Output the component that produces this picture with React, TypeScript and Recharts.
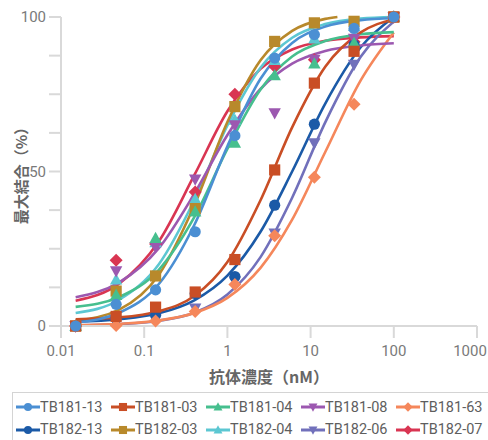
import { ComposedChart, Line, Scatter, XAxis, YAxis } from 'recharts';

// antibody concentrations (nM), 3-fold dilution series
const concentrations = [0.015, 0.046, 0.137, 0.41, 1.23, 3.7, 11.1, 33.3, 100];
const fitConc = [0.015, 0.05, 0.15, 0.4, 1, 2.5, 6, 15, 40, 100];
const fitConcShort = [0.015, 0.05, 0.15, 0.4, 1, 2.5, 6, 15, 21];

// measured max binding (%)
const tb181_13 = [0, 7, 11.7, 30.5, 61.6, 86.7, 94.3, 96.3, 100];
const tb181_03 = [0, 3.1, 6.1, 11, 21.5, 50.5, 78.6, 88.9, 100];
const tb181_04 = [0, 10, 28.4, 37, 59.2, 81.1, 84.9, 91.6, 100];
const tb181_08 = [0, 17.8, 25.6, 47.5, 65, 68.9, 86.2, 93, 100];
const tb181_63 = [0, 0.2, 1.6, 4.7, 13.4, 29.2, 48.1, 71.8, 100];
const tb182_13 = [0, 2.5, 3.5, 10.5, 16, 39.1, 65.3, 91, 100];
const tb182_03 = [0, 11.3, 16.2, 38, 71, 92.1, 98.1, 98.6, 100];
const tb182_04 = [0, 15, 27, 41, 66.7, 86, 93, 97, 100];
const tb182_06 = [0, 1, 2.5, 5.7, 14.5, 30, 59.2, 84.6, 100];
const tb182_07 = [0, 21.3, 26.5, 43.4, 75, 84, 86.2, 92, 100];

// fitted curves (%), read at fitConc
const tb181_13Fit = [1.1, 4.3, 13.6, 32.7, 58.2, 80, 91.6, 96.9, 99, 99.6];
const tb181_03Fit = [2.2, 2.8, 4.8, 9.7, 20.7, 40.7, 64.3, 83.9, 95, 99.3];
const tb181_04Fit = [6.2, 9.4, 18.2, 35.2, 57.3, 76.5, 87.2, 92.2, 94.4, 95.1];
const tb181_08Fit = [9.3, 14.1, 25.2, 42.8, 61.8, 76.7, 84.9, 89, 90.8, 91.5];
const tb181_63Fit = [0.2, 0.7, 1.8, 4.2, 9.1, 18.8, 34.4, 56.3, 79.5, 95];
const tb182_13Fit = [1.4, 2.2, 4.1, 8.3, 16.3, 30.5, 50, 72, 90.2, 100];
const tb182_03Fit = [1.7, 5.3, 16.6, 39, 66, 86, 95.5, 99.4, 100]; // runs off the top
const tb182_04Fit = [4.2, 8.5, 20, 40.7, 64.9, 83.6, 93.3, 97.7, 99.5, 100];
const tb182_06Fit = [0.2, 0.6, 1.7, 4.3, 10.2, 22.3, 41.5, 65.9, 87.1, 98.5];
const tb182_07Fit = [8.2, 13.7, 27.4, 48.8, 69.5, 83.2, 89.5, 92.3, 93.4, 93.8];

const xTicks = [0.01, 0.1, 1, 10, 100, 1000];
const yTicks = [0, 12.5, 25, 37.5, 50, 62.5, 75, 87.5, 100];

type MarkerKind = 'circle' | 'square' | 'up' | 'down' | 'diamond';

const SERIES: { name: string; color: string; marker: MarkerKind; points: number[]; fit: number[]; fitX: number[] }[] = [
  { name: 'TB181-13', color: '#4b8fd3', marker: 'circle', points: tb181_13, fit: tb181_13Fit, fitX: fitConc },
  { name: 'TB181-03', color: '#c94e25', marker: 'square', points: tb181_03, fit: tb181_03Fit, fitX: fitConc },
  { name: 'TB181-04', color: '#46bf8e', marker: 'up', points: tb181_04, fit: tb181_04Fit, fitX: fitConc },
  { name: 'TB181-08', color: '#9c58b0', marker: 'down', points: tb181_08, fit: tb181_08Fit, fitX: fitConc },
  { name: 'TB181-63', color: '#f5875b', marker: 'diamond', points: tb181_63, fit: tb181_63Fit, fitX: fitConc },
  { name: 'TB182-13', color: '#1b5aa7', marker: 'circle', points: tb182_13, fit: tb182_13Fit, fitX: fitConc },
  { name: 'TB182-03', color: '#b8892b', marker: 'square', points: tb182_03, fit: tb182_03Fit, fitX: fitConcShort },
  { name: 'TB182-04', color: '#5cc7d2', marker: 'up', points: tb182_04, fit: tb182_04Fit, fitX: fitConc },
  { name: 'TB182-06', color: '#7170bb', marker: 'down', points: tb182_06, fit: tb182_06Fit, fitX: fitConc },
  { name: 'TB182-07', color: '#d93552', marker: 'diamond', points: tb182_07, fit: tb182_07Fit, fitX: fitConc },
];

const AXIS = '#d9d9d9';
const TICK_TEXT = '#7a7a7a';
const LABEL_TEXT = '#666';
const NUM_FONT = 'Roboto, "Noto Sans", sans-serif';
const CJK_FONT = '"Noto Sans CJK JP", "Noto Sans", sans-serif';

function Marker({ cx, cy, fill, kind, s = 1 }: { cx: number; cy: number; fill: string; kind: MarkerKind; s?: number }) {
  if (cx == null || cy == null) return null;
  switch (kind) {
    case 'circle':
      return <circle cx={cx} cy={cy} r={5.6 * s} fill={fill} />;
    case 'square':
      return <rect x={cx - 5.6 * s} y={cy - 5.6 * s} width={11.2 * s} height={11.2 * s} fill={fill} />;
    case 'up':
      return <polygon points={`${cx},${cy - 6.5 * s} ${cx + 6.2 * s},${cy + 4.8 * s} ${cx - 6.2 * s},${cy + 4.8 * s}`} fill={fill} />;
    case 'down':
      return <polygon points={`${cx},${cy + 6.5 * s} ${cx + 6.2 * s},${cy - 4.8 * s} ${cx - 6.2 * s},${cy - 4.8 * s}`} fill={fill} />;
    default:
      return <polygon points={`${cx},${cy - 6.5 * s} ${cx + 6.5 * s},${cy} ${cx},${cy + 6.5 * s} ${cx - 6.5 * s},${cy}`} fill={fill} />;
  }
}

// x tick label; the last one is nudged in so it stays on the page
function XTick({ x, y, payload }: any) {
  const last = payload.value === xTicks[xTicks.length - 1];
  return (
    <text
      x={x}
      y={y}
      dx={last ? -7 : 0}
      dy="0.71em"
      textAnchor="middle"
      fill={TICK_TEXT}
      fontSize={15}
      fontFamily={NUM_FONT}
    >
      {String(payload.value)}
    </text>
  );
}

function YLabel() {
  return (
    <text
      transform="translate(20,172) rotate(-90)"
      textAnchor="middle"
      dominantBaseline="central"
      fill={LABEL_TEXT}
      fontFamily={CJK_FONT}
      fontWeight={700}
      fontSize={15}
    >
      最大結合（%）
    </text>
  );
}

function ChartLegend() {
  return (
    <div
      style={{
        position: 'absolute',
        left: 12,
        top: 392,
        width: 490,
        height: 60,
        border: '1px solid #d4d4d4',
        display: 'grid',
        gridTemplateColumns: 'repeat(5, 95px)',
        gridAutoRows: '22.6px',
        paddingLeft: 3,
        paddingTop: 3,
        boxSizing: 'border-box',
        fontFamily: NUM_FONT,
        fontSize: 14.5,
        color: '#5e5e5e',
      }}
    >
      {SERIES.map((s) => (
        <div key={s.name} style={{ display: 'flex', alignItems: 'center', whiteSpace: 'nowrap' }}>
          <svg width={24} height={14} style={{ flex: 'none' }}>
            <line x1={0} y1={7} x2={24} y2={7} stroke={s.color} strokeWidth={3} />
            <Marker cx={12} cy={7} fill={s.color} kind={s.marker} s={0.72} />
          </svg>
          <span>{s.name}</span>
        </div>
      ))}
    </div>
  );
}

export default function App() {
  const drawOrder = [...SERIES].reverse();
  return (
    <div style={{ position: 'relative', width: 488, height: 440, overflow: 'hidden', background: '#fff' }}>
      <style>{'body{margin:0}'}</style>
      <ComposedChart width={488} height={440} margin={{ top: 17, right: 11, bottom: 57, left: 0 }}>
        <XAxis
          dataKey="x"
          type="number"
          scale="log"
          domain={[0.01, 1000]}
          ticks={xTicks}
          interval={0}
          height={57}
          tickSize={12}
          tickMargin={7}
          stroke={AXIS}
          strokeWidth={2}
          tick={<XTick />}
          label={{
            value: '抗体濃度（nM）',
            position: 'insideBottom',
            offset: 0,
            fill: LABEL_TEXT,
            fontSize: 16,
            fontWeight: 700,
            fontFamily: CJK_FONT,
          }}
        />
        <YAxis
          dataKey="y"
          type="number"
          domain={[0, 100]}
          ticks={yTicks}
          interval={0}
          width={61}
          tickSize={12}
          tickMargin={3}
          stroke={AXIS}
          strokeWidth={2}
          tickFormatter={(v: number) => (v % 50 === 0 ? String(v) : '')}
          tick={{ fill: TICK_TEXT, fontSize: 15, fontFamily: NUM_FONT }}
          label={<YLabel />}
        />
        {drawOrder.map((s) => (
          <Line
            key={`fit-${s.name}`}
            data={s.fit.map((y, i) => ({ x: s.fitX[i], y }))}
            dataKey="y"
            type="monotone"
            stroke={s.color}
            strokeWidth={2.6}
            dot={false}
            activeDot={false}
            legendType="none"
            isAnimationActive={false}
          />
        ))}
        {drawOrder.map((s) => (
          <Scatter
            key={`pts-${s.name}`}
            name={s.name}
            data={s.points.map((y, i) => ({ x: concentrations[i], y }))}
            dataKey="y"
            fill={s.color}
            isAnimationActive={false}
            shape={(p: any) => <Marker cx={p.cx} cy={p.cy} fill={s.color} kind={s.marker} />}
          />
        ))}
      </ComposedChart>
      <ChartLegend />
    </div>
  );
}
